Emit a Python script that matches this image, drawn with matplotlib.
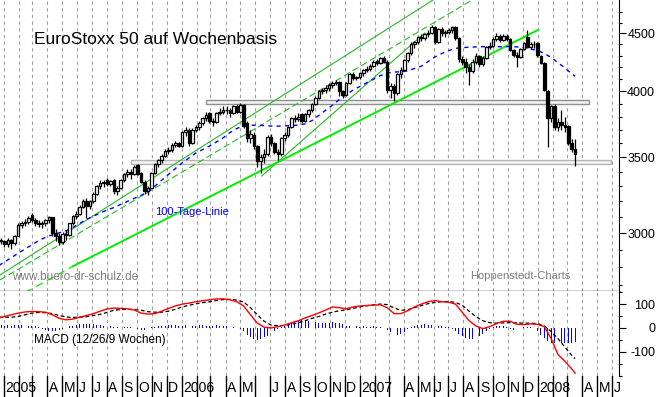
import matplotlib
matplotlib.use("Agg")
import matplotlib.pyplot as plt
import matplotlib.dates as mdates
from matplotlib.patches import Rectangle
from matplotlib.ticker import FixedLocator, NullFormatter
import pandas as pd

plt.rcParams['font.family'] = ['Liberation Sans', 'DejaVu Sans']

# weekly candles, EuroStoxx 50
weeks = pd.date_range('2004-12-20', periods=170, freq='7D')

opens = [2950, 2958, 2951, 2935, 2960, 2940, 2985, 3050, 3065, 3070,
         3110, 3080, 3065, 3055, 3062, 3080, 3098, 3000, 2985, 2945,
         2995, 2988, 3060, 3105, 3120, 3165, 3205, 3170, 3200, 3250,
         3300, 3320, 3345, 3318, 3340, 3265, 3290, 3340, 3380, 3400,
         3380, 3445, 3390, 3330, 3270, 3290, 3390, 3450, 3480, 3510,
         3545, 3550, 3590, 3600, 3579, 3680, 3700, 3600, 3700, 3720,
         3750, 3790, 3830, 3770, 3760, 3830, 3840, 3853, 3850, 3830,
         3880, 3840, 3890, 3750, 3640, 3660, 3580, 3470, 3500, 3520,
         3650, 3600, 3540, 3520, 3640, 3660, 3720, 3790, 3780, 3820,
         3770, 3820, 3850, 3900, 3950, 4000, 4010, 4030, 4050, 4070,
         4080, 4000, 3970, 4070, 4145, 4110, 4120, 4150, 4180, 4190,
         4210, 4255, 4240, 4280, 4250, 4010, 4045, 3990, 4140, 4180,
         4260, 4320, 4400, 4420, 4470, 4460, 4490, 4500, 4560, 4420,
         4540, 4500, 4510, 4530, 4560, 4460, 4270, 4250, 4200, 4170,
         4250, 4300, 4230, 4280, 4380, 4390, 4450, 4480, 4440, 4480,
         4450, 4350, 4310, 4290, 4360, 4470, 4380, 4400, 4410, 4300,
         4240, 4000, 3790, 3880, 3720, 3760, 3740, 3730, 3600, 3558]
highs = [2968, 2970, 2960, 2968, 2965, 2990, 3060, 3075, 3090, 3105,
         3125, 3095, 3080, 3075, 3090, 3105, 3102, 3025, 3000, 3005,
         3020, 3065, 3110, 3140, 3175, 3215, 3220, 3210, 3260, 3310,
         3340, 3345, 3355, 3345, 3350, 3300, 3350, 3390, 3415, 3420,
         3445, 3455, 3400, 3340, 3300, 3400, 3460, 3490, 3520, 3560,
         3570, 3600, 3615, 3610, 3690, 3720, 3710, 3710, 3740, 3770,
         3800, 3835, 3840, 3790, 3840, 3865, 3880, 3885, 3870, 3895,
         3900, 3905, 3900, 3770, 3700, 3680, 3590, 3520, 3560, 3660,
         3670, 3610, 3560, 3650, 3680, 3730, 3800, 3810, 3830, 3830,
         3830, 3860, 3910, 3960, 4010, 4030, 4050, 4065, 4085, 4095,
         4085, 4010, 4080, 4150, 4160, 4130, 4160, 4190, 4210, 4230,
         4260, 4270, 4290, 4295, 4260, 4070, 4060, 4150, 4200, 4270,
         4335, 4420, 4430, 4480, 4490, 4500, 4530, 4575, 4570, 4550,
         4560, 4530, 4550, 4570, 4565, 4470, 4300, 4280, 4230, 4270,
         4320, 4310, 4300, 4390, 4420, 4470, 4500, 4490, 4495, 4490,
         4460, 4360, 4330, 4370, 4420, 4530, 4420, 4430, 4420, 4310,
         4250, 4010, 3890, 3900, 3790, 3850, 3800, 3740, 3630, 3630]
lows = [2930, 2935, 2915, 2920, 2905, 2930, 2980, 3030, 3045, 3055,
        3070, 3045, 3040, 3030, 3045, 3065, 2985, 2950, 2930, 2935,
        2960, 2980, 3050, 3085, 3110, 3155, 3095, 3150, 3190, 3240,
        3280, 3295, 3300, 3300, 3250, 3245, 3280, 3330, 3360, 3350,
        3375, 3375, 3320, 3250, 3240, 3285, 3380, 3430, 3460, 3500,
        3520, 3540, 3570, 3570, 3575, 3655, 3580, 3595, 3680, 3700,
        3735, 3770, 3755, 3730, 3750, 3815, 3820, 3820, 3800, 3820,
        3825, 3830, 3715, 3610, 3600, 3560, 3430, 3390, 3460, 3510,
        3580, 3520, 3480, 3510, 3620, 3650, 3710, 3760, 3770, 3750,
        3760, 3800, 3840, 3890, 3940, 3980, 3990, 4000, 4030, 4050,
        3965, 3945, 3960, 4060, 4095, 4090, 4100, 4130, 4160, 4170,
        4200, 4220, 4230, 4240, 3990, 3950, 3920, 3970, 4110, 4170,
        4250, 4310, 4370, 4400, 4430, 4440, 4470, 4490, 4400, 4410,
        4480, 4470, 4490, 4500, 4440, 4250, 4220, 4150, 4050, 4150,
        4230, 4200, 4210, 4270, 4360, 4380, 4430, 4420, 4430, 4430,
        4340, 4290, 4200, 4280, 4350, 4370, 4360, 4370, 4290, 4230,
        4000, 3570, 3760, 3700, 3690, 3700, 3680, 3590, 3540, 3440]
closes = [2958, 2951, 2935, 2960, 2940, 2985, 3050, 3065, 3070, 3095,
          3080, 3065, 3055, 3062, 3080, 3098, 3000, 2985, 2945, 2995,
          2988, 3060, 3105, 3120, 3165, 3205, 3170, 3200, 3250, 3300,
          3320, 3325, 3318, 3335, 3265, 3290, 3340, 3380, 3400, 3380,
          3430, 3385, 3330, 3270, 3290, 3390, 3450, 3480, 3510, 3545,
          3550, 3590, 3600, 3579, 3680, 3695, 3600, 3700, 3720, 3750,
          3790, 3810, 3770, 3760, 3830, 3840, 3853, 3850, 3830, 3880,
          3840, 3890, 3730, 3640, 3670, 3580, 3470, 3500, 3520, 3650,
          3600, 3540, 3520, 3640, 3660, 3720, 3790, 3780, 3800, 3770,
          3820, 3850, 3900, 3950, 4000, 4010, 4030, 4050, 4070, 4080,
          4000, 3970, 4070, 4140, 4110, 4120, 4150, 4180, 4190, 4210,
          4250, 4240, 4280, 4250, 4010, 4040, 3990, 4140, 4180, 4260,
          4320, 4400, 4420, 4470, 4460, 4490, 4500, 4560, 4420, 4540,
          4500, 4510, 4530, 4560, 4460, 4270, 4250, 4200, 4170, 4250,
          4300, 4230, 4280, 4380, 4390, 4450, 4480, 4440, 4480, 4450,
          4350, 4310, 4290, 4360, 4410, 4380, 4400, 4400, 4310, 4240,
          4010, 3790, 3880, 3720, 3760, 3740, 3720, 3600, 3560, 3520]

# 100-Tage-Linie, read every second week (+ last week)
ma_dates = list(weeks[::2]) + [weeks[-1]]
ma100 = [2805, 2830, 2855, 2880, 2905, 2930, 2955, 2975, 2990, 3002,
         3015, 3035, 3060, 3085, 3105, 3125, 3145, 3160, 3180, 3200,
         3220, 3240, 3262, 3300, 3340, 3380, 3420, 3460, 3495, 3530,
         3555, 3580, 3610, 3640, 3680, 3710, 3730, 3735, 3735, 3732,
         3728, 3728, 3730, 3732, 3736, 3745, 3770, 3810, 3850, 3890,
         3935, 3975, 4010, 4040, 4070, 4100, 4130, 4150, 4160, 4163,
         4170, 4190, 4210, 4250, 4290, 4320, 4345, 4365, 4372, 4375,
         4378, 4380, 4380, 4380, 4380, 4380, 4378, 4372, 4360, 4345,
         4320, 4285, 4240, 4195, 4145, 4125]

# MACD (12/26/9), read every second week (+ last week)
macd = [40, 48, 55, 62, 67, 69, 68, 66, 55, 40,
        34, 37, 45, 52, 60, 70, 80, 83, 82, 80,
        75, 62, 58, 60, 70, 82, 92, 100, 104, 110,
        114, 118, 122, 122, 118, 110, 92, 55, 20, 3,
        0, 5, 12, 22, 30, 42, 52, 63, 75, 88,
        85, 80, 88, 92, 94, 96, 97, 85, 60, 60,
        72, 88, 100, 110, 115, 110, 108, 100, 65, 30,
        8, -3, 5, 18, 28, 28, 15, 14, 17, 15,
        5, -45, -112, -140, -172, -190]
signal = [45, 45, 45, 48, 55, 62, 65, 64, 60, 52,
          46, 44, 45, 47, 52, 57, 65, 74, 77, 78,
          77, 74, 68, 66, 66, 70, 78, 88, 95, 101,
          106, 110, 115, 119, 120, 117, 108, 85, 55, 28,
          12, 9, 10, 15, 22, 30, 40, 48, 58, 66,
          72, 76, 82, 88, 93, 97, 100, 98, 84, 74,
          76, 85, 94, 102, 107, 110, 111, 107, 95, 70,
          47, 30, 22, 20, 21, 22, 21, 20, 20, 18,
          8, -15, -45, -80, -115, -129]
hist = [10, 12, 10, 12, 10, 12, 14, 12, 12, 10, 8, 6, 4,
        -4, -8, -12, -14, -14, -10, -6,
        2, 6, 10, 14, 16, 18, 16, 18, 16, 14, 12, 10, 8, 6,
        4, 2, -2, 2, 4, 2, -2, -6, -10, -8, -4, 2, 4,
        6, 8, 10, 12, 12, 12, 10, 10, 12, 12, 10, 10, 12, 12, 10, 8, 10, 12, 10, 8, 6, 4, 2, 0,
        -6, -14, -28, -40, -48, -50, -46, -40, -32, -24, -14, -6,
        4, 10, 16, 22, 26, 30, 32, 30, 28, 26, 24, 22, 22, 20, 22,
        24, 22, 20, 18,
        8, 6, 4, 6, 4, 6, 4, 4, 6, 4, 2, 0,
        -10, -18, -24, -28, -24, -16,
        -6, 4, 8, 12, 14, 16, 14, 12, 10, 8, 6, 4,
        2, -6, -14, -26, -36, -44, -48, -48, -42, -34, -24, -14, -6,
        2, 6, 10, 8, 4, -4, -8, -6, -2, 2, 4, 2, 0,
        -14, -30, -44, -56, -62, -64, -66, -64, -62, -64, -62, -60]

# trend lines: (start date, start price, end date, end price)
lime_line = ('2005-05-23', 2805, '2008-01-01', 4531)
lime_ext = ('2005-02-14', 2659, '2005-05-23', 2805)
solid_lines = [('2004-12-24 19:00', 2756, '2007-05-31', 4815),
               ('2006-06-14', 3369, '2007-05-14', 4503)]
dashed_lines = [('2004-12-24 19:00', 2728, '2007-08-19', 4815)]
# horizontal bands: (from, to, low, high, edge colour)
bands = [('2006-02-20', '2008-04-14', 3900, 3930, '#909090'),
         ('2005-09-19', '2008-05-30', 3453, 3481, '#b4b4b4')]

month_labels = {'2005-01': '2005', '2005-04': 'A', '2005-05': 'M', '2005-06': 'J',
                '2005-07': 'J', '2005-08': 'A', '2005-09': 'S', '2005-10': 'O',
                '2005-11': 'N', '2005-12': 'D', '2006-01': '2006', '2006-04': 'A',
                '2006-05': 'M', '2006-07': 'J', '2006-08': 'A', '2006-09': 'S',
                '2006-10': 'O', '2006-11': 'N', '2006-12': 'D', '2007-01': '2007',
                '2007-04': 'A', '2007-05': 'M', '2007-06': 'J', '2007-07': 'J',
                '2007-08': 'A', '2007-09': 'S', '2007-10': 'O', '2007-11': 'N',
                '2007-12': 'D', '2008-01': '2008', '2008-04': 'A', '2008-05': 'M',
                '2008-06': 'J'}

x0 = pd.Timestamp('2004-12-24 19:00')
x1 = pd.Timestamp('2008-06-15')
months = pd.date_range('2005-01-01', '2008-06-01', freq='MS')

fig = plt.figure(figsize=(6.6, 3.97), dpi=100)
ax = fig.add_axes([0, 1 - 291 / 397, 619 / 660, 291 / 397])
ax2 = fig.add_axes([0, 21 / 397, 619 / 660, 85 / 397])
ax3 = fig.add_axes([0, 0, 619 / 660, 21 / 397])

# price panel
ax.set_yscale('log')
ax.set_ylim(2668, 4815)
ax.set_xlim(x0, x1)
for m in months:
    ax.axvline(m, color='#a0a0a0', lw=0.8, ls=(0, (3, 3)), zorder=0)
    ax2.axvline(m, color='#a0a0a0', lw=0.8, ls=(0, (3, 3)), zorder=0)

for b in bands:
    d0 = mdates.date2num(pd.Timestamp(b[0]))
    d1 = mdates.date2num(pd.Timestamp(b[1]))
    ax.add_patch(Rectangle((d0, b[2]), d1 - d0, b[3] - b[2], facecolor='#f2f2f2',
                           edgecolor=b[4], lw=1.0, zorder=1))

for g in solid_lines:
    ax.plot([pd.Timestamp(g[0]), pd.Timestamp(g[2])], [g[1], g[3]],
            color='#22bb22', lw=0.8, zorder=2)
for g in dashed_lines:
    ax.plot([pd.Timestamp(g[0]), pd.Timestamp(g[2])], [g[1], g[3]],
            color='#22bb22', lw=0.8, ls=(0, (6, 3)), zorder=2)
ax.plot([pd.Timestamp(lime_ext[0]), pd.Timestamp(lime_ext[2])],
        [lime_ext[1], lime_ext[3]], color='#00ee00', lw=0.9, ls=(0, (6, 4)), zorder=2)
ax.plot([pd.Timestamp(lime_line[0]), pd.Timestamp(lime_line[2])],
        [lime_line[1], lime_line[3]], color='#00ee00', lw=1.4, zorder=2)

ax.plot(ma_dates, ma100, color='#0000ff', lw=1.0, ls=(0, (3, 3)), zorder=3)

ax.vlines(weeks, lows, highs, color='black', lw=0.9, zorder=4)
up_b = [min(o, c) for o, c in zip(opens, closes)]
h_b = [max(abs(c - o), 4) for o, c in zip(opens, closes)]
cols = ['white' if c >= o else 'black' for o, c in zip(opens, closes)]
ax.bar(weeks, h_b, bottom=up_b, width=5.4, color=cols, edgecolor='black',
       lw=0.9, zorder=5)

fig.text(34 / 660, 1 - 39 / 397, 'EuroStoxx 50 auf Wochenbasis', fontsize=12.5,
         va='center', ha='left')
ax.text(155 / 619, 1 - 212 / 291, '100-Tage-Linie', transform=ax.transAxes,
        fontsize=8, color='#0000ff', va='center', ha='left')
ax.text(12 / 619, 1 - 277 / 291, 'www.buero-dr-schulz.de', transform=ax.transAxes,
        fontsize=8.5, color='#808080', va='center', ha='left')
ax.text(470 / 619, 1 - 276 / 291, 'Hoppenstedt-Charts', transform=ax.transAxes,
        fontsize=8, color='#808080', va='center', ha='left')

for a in (ax, ax2):
    a.spines['left'].set_visible(False)
    a.spines['top'].set_visible(False)
    a.yaxis.tick_right()
    a.tick_params(axis='x', which='both', bottom=False, labelbottom=False)
    a.tick_params(axis='y', which='major', length=5, width=0.8, labelsize=9,
                  pad=21)
    a.tick_params(axis='y', which='minor', length=2.5, width=0.8)
ax.spines['bottom'].set_linewidth(1.0)
ax.yaxis.set_major_locator(FixedLocator([3000, 3500, 4000, 4500]))
ax.yaxis.set_minor_locator(FixedLocator(list(range(2700, 4800, 100))))
ax.yaxis.set_minor_formatter(NullFormatter())
ax.set_yticklabels(['3000', '3500', '4000', '4500'], ha='right')

# MACD panel
ax2.set_xlim(x0, x1)
ax2.set_ylim(-202, 155)
ax2.spines['bottom'].set_visible(False)
ax2.bar(weeks, hist, width=2.0, color='#0000ff', zorder=2)
ax2.plot(ma_dates, signal, color='black', lw=0.9, ls=(0, (3, 2)), zorder=3)
ax2.plot(ma_dates, macd, color='#ff0000', lw=1.0, zorder=4)
ax2.yaxis.set_major_locator(FixedLocator([-100, 0, 100]))
ax2.yaxis.set_minor_locator(FixedLocator([-200, -150, -50, 50, 150]))
ax2.set_yticklabels(['-100', '0', '100'], ha='right')
ax2.text(34 / 619, 1 - 49 / 85, 'MACD (12/26/9 Wochen)', transform=ax2.transAxes,
         fontsize=8.5, va='center', ha='left')

# month row
ax3.set_xlim(x0, x1)
ax3.set_ylim(0, 1)
ax3.axis('off')
for m in months:
    ax3.axvline(m, color='black', lw=1.0)
    key = m.strftime('%Y-%m')
    if key in month_labels:
        ax3.text(m + pd.Timedelta(days=3), 0.45, month_labels[key], fontsize=10,
                 va='center', ha='left')

fig.savefig('out.png', dpi=100)
